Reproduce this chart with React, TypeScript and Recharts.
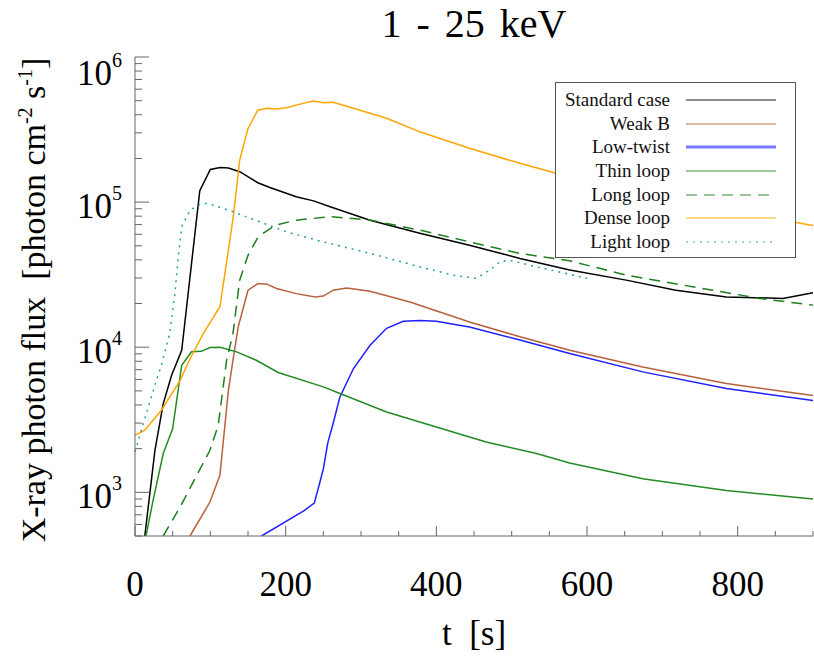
import { Legend, Line, LineChart, XAxis, YAxis } from "recharts";

// time samples [s] and X-ray photon flux for each run
const STD_T = [13, 26.5, 37.5, 48.6, 62, 86, 100, 113, 124, 139, 163, 179, 214, 237, 259, 312, 378, 444, 511, 577, 652, 718, 785, 860, 900];
const STD_V = [500, 1950, 4090, 6410, 9530, 1.2e5, 1.68e5, 1.73e5, 1.72e5, 1.62e5, 1.36e5, 1.26e5, 1.09e5, 1.02e5, 9.3e4, 7.5e4, 6.1e4, 5.05e4, 4.09e4, 3.4e4, 2.9e4, 2.47e4, 2.22e4, 2.17e4, 2.37e4];

const WEAK_T = [73, 99.5, 112.7, 124, 130, 137, 150, 163.5, 175, 188, 214, 239, 250, 263, 281, 312, 365, 444, 511, 577, 674, 785, 900];
const WEAK_V = [500, 857, 1310, 5050, 8130, 1.38e4, 2.47e4, 2.75e4, 2.72e4, 2.54e4, 2.34e4, 2.22e4, 2.25e4, 2.47e4, 2.56e4, 2.43e4, 2.05e4, 1.49e4, 1.18e4, 9530, 7310, 5620, 4650];

const LOWTW_T = [168, 225, 238, 245, 250, 256, 263, 272, 290, 312, 334, 356, 378, 400, 444, 511, 577, 674, 785, 900];
const LOWTW_V = [500, 752, 843, 1150, 1450, 2200, 2980, 4540, 7130, 1.03e4, 1.35e4, 1.51e4, 1.53e4, 1.51e4, 1.38e4, 1.12e4, 9060, 6760, 5190, 4300];

const THIN_T = [14.6, 24, 37.5, 50, 62, 75, 88, 99.5, 113, 135, 161, 190, 250, 272, 334, 400, 466, 533, 577, 674, 785, 900];
const THIN_V = [500, 880, 1850, 2750, 7510, 9290, 9370, 9950, 1.0e4, 9290, 8130, 6700, 5330, 4800, 3580, 2820, 2220, 1850, 1590, 1240, 1030, 900];

const LONG_T = [37.5, 60, 82, 99.5, 110.5, 121.6, 130, 139, 150, 163.5, 186, 214, 259, 312, 378, 444, 511, 577, 652, 740, 829, 900];
const LONG_V = [500, 794, 1310, 1950, 2900, 8130, 1.24e4, 2.9e4, 4.3e4, 5.77e4, 6.93e4, 7.51e4, 7.93e4, 7.52e4, 6.41e4, 5.32e4, 4.43e4, 3.94e4, 3.14e4, 2.61e4, 2.17e4, 1.95e4];

const DENSE_T = [0, 13, 35, 60, 72, 90.6, 112.7, 124, 130.4, 139, 150, 163, 175, 188, 201, 223, 237, 250, 263, 290, 334, 378, 444, 511, 577, 696, 900];
const DENSE_V = [2470, 2680, 3680, 5910, 8130, 1.24e4, 1.9e4, 4.67e4, 7.9e4, 1.95e5, 3.22e5, 4.3e5, 4.43e5, 4.38e5, 4.47e5, 4.79e5, 4.98e5, 4.84e5, 4.87e5, 4.43e5, 3.78e5, 3.05e5, 2.35e5, 1.85e5, 1.49e5, 1.06e5, 6.9e4];

const LIGHT_T = [0, 13, 26.5, 35, 46, 53, 57, 62, 73, 88, 97, 130, 166, 201, 245, 312, 378, 422, 453, 471, 484, 497, 533, 577, 600];
const LIGHT_V = [1900, 3220, 5470, 7510, 1.24e4, 2.34e4, 3.98e4, 6.77e4, 8.8e4, 9.77e4, 9.8e4, 8.58e4, 7.31e4, 6.24e4, 5.4e4, 4.43e4, 3.58e4, 3.14e4, 2.98e4, 3.4e4, 3.87e4, 3.98e4, 3.58e4, 3.18e4, 2.98e4];

const X_TICKS = [0, 50, 100, 150, 200, 250, 300, 350, 400, 450, 500, 550, 600, 650, 700, 750, 800, 850, 900];
const Y_TICKS = [
  500, 600, 700, 800, 900,
  1e3, 2e3, 3e3, 4e3, 5e3, 6e3, 7e3, 8e3, 9e3,
  1e4, 2e4, 3e4, 4e4, 5e4, 6e4, 7e4, 8e4, 9e4,
  1e5, 2e5, 3e5, 4e5, 5e5, 6e5, 7e5, 8e5, 9e5,
  1e6,
];

const zip = (ts: number[], vs: number[]) => ts.map((t, i) => ({ t, v: vs[i] }));

const SERIES = [
  { name: "Standard case", data: zip(STD_T, STD_V), color: "#000000" },
  { name: "Weak B", data: zip(WEAK_T, WEAK_V), color: "#b8603c" },
  { name: "Low-twist", data: zip(LOWTW_T, LOWTW_V), color: "#1f1fff", legendWidth: 3 },
  { name: "Thin loop", data: zip(THIN_T, THIN_V), color: "#238b23" },
  { name: "Long loop", data: zip(LONG_T, LONG_V), color: "#1e7f1e", dash: "11 7" },
  { name: "Dense loop", data: zip(DENSE_T, DENSE_V), color: "#ffa500" },
  { name: "Light loop", data: zip(LIGHT_T, LIGHT_V), color: "#2a9fa0", dash: "2 5" },
];

const FONT = "'Liberation Serif', 'DejaVu Serif', serif";
const TICK_COLOR = "#666";

const isMajorY = (v: number) => {
  const e = Math.log10(v);
  return Math.abs(e - Math.round(e)) < 1e-9;
};

function LeftTick({ x, y, payload }: any) {
  const v = payload.value;
  const major = isMajorY(v);
  const exp = Math.round(Math.log10(v));
  return (
    <g>
      <line x1={x} x2={x + (major ? 14 : 7)} y1={y} y2={y} stroke={TICK_COLOR} />
      {major && (
        <text x={x - 13} y={y + (v === 1e6 ? 28 : 15.5)} textAnchor="end" fontSize={35} fontFamily={FONT} fill="#000">
          10
          <tspan dy={-18} fontSize={20}>
            {exp}
          </tspan>
        </text>
      )}
    </g>
  );
}

function RightTick({ x, y, payload }: any) {
  const major = isMajorY(payload.value);
  return <line x1={x} x2={x - (major ? 14 : 7)} y1={y} y2={y} stroke={TICK_COLOR} />;
}

function BottomTick({ x, y, payload }: any) {
  const major = payload.value % 200 === 0;
  return (
    <g>
      <line x1={x} x2={x} y1={y} y2={y - (major ? 10 : 5)} stroke={TICK_COLOR} />
      {major && (
        <text x={x} y={y + 60} textAnchor="middle" fontSize={35} fontFamily={FONT} fill="#000">
          {payload.value}
        </text>
      )}
    </g>
  );
}

function TopTick({ x, y, payload }: any) {
  const major = payload.value % 200 === 0;
  return <line x1={x} x2={x} y1={y} y2={y + (major ? 10 : 5)} stroke={TICK_COLOR} />;
}

// x-axis label plus the chart title above the frame
function AxisTexts() {
  return (
    <g>
      <text x={474} y={645} textAnchor="middle" fontSize={35} fontFamily={FONT} fill="#000">
        {"t\u00a0\u00a0[s]"}
      </text>
      <text x={474} y={37} textAnchor="middle" fontSize={40} wordSpacing={5} fontFamily={FONT} fill="#000">
        1 - 25 keV
      </text>
    </g>
  );
}

function LegendBox() {
  return (
    <div
      style={{
        width: 241,
        height: 176,
        border: "1px solid #555",
        background: "#fff",
        fontFamily: FONT,
        fontSize: 19,
        color: "#111",
        paddingTop: 5,
        boxSizing: "border-box",
      }}
    >
      {SERIES.map((s) => (
        <div key={s.name} style={{ display: "flex", alignItems: "center", height: 23.7 }}>
          <span style={{ width: 114, textAlign: "right", whiteSpace: "nowrap" }}>{s.name}</span>
          <svg width={100} height={10} style={{ marginLeft: 16 }}>
            <line
              x1={0}
              x2={90}
              y1={5}
              y2={5}
              stroke={s.color}
              strokeOpacity={0.6}
              strokeWidth={s.legendWidth ?? 1.5}
              strokeDasharray={s.dash}
            />
          </svg>
        </div>
      ))}
    </div>
  );
}

export default function App() {
  return (
    <div style={{ position: "absolute", left: 0, top: 0 }}>
      <LineChart width={814} height={657} margin={{ top: 57, right: 1, bottom: 0, left: 0 }}>
        <XAxis
          xAxisId="b"
          dataKey="t"
          type="number"
          domain={[0, 900]}
          ticks={X_TICKS}
          interval={0}
          height={121}
          tickSize={0}
          tickMargin={0}
          tick={<BottomTick />}
          axisLine={{ stroke: TICK_COLOR }}
          label={{ content: () => <AxisTexts /> }}
        />
        <XAxis
          xAxisId="t"
          orientation="top"
          type="number"
          domain={[0, 900]}
          ticks={X_TICKS}
          interval={0}
          height={0}
          tickSize={0}
          tickMargin={0}
          tick={<TopTick />}
          axisLine={{ stroke: TICK_COLOR }}
        />
        <YAxis
          yAxisId="l"
          scale="log"
          domain={[500, 1e6]}
          allowDataOverflow
          ticks={Y_TICKS}
          interval={0}
          width={135}
          tickSize={0}
          tickMargin={0}
          tick={<LeftTick />}
          axisLine={{ stroke: TICK_COLOR }}
          label={{
            content: () => (
              <text
                transform="translate(45,300) rotate(-90)"
                textAnchor="middle"
                fontSize={34}
                fontFamily={FONT}
                fill="#000"
              >
                X-ray photon flux{"\u00a0\u00a0"}[photon cm
                <tspan dy={-13} fontSize={20}>-2</tspan>
                <tspan dy={13}> s</tspan>
                <tspan dy={-13} fontSize={20}>-1</tspan>
                <tspan dy={13}>]</tspan>
              </text>
            ),
          }}
        />
        <YAxis
          yAxisId="r"
          orientation="right"
          scale="log"
          domain={[500, 1e6]}
          allowDataOverflow
          ticks={Y_TICKS}
          interval={0}
          width={0}
          tickSize={0}
          tickMargin={0}
          tick={<RightTick />}
          axisLine={{ stroke: TICK_COLOR }}
        />
        <Legend
          layout="vertical"
          align="center"
          verticalAlign="middle"
          content={() => <LegendBox />}
          wrapperStyle={{ left: 555, top: 82, width: 241, height: 176 }}
        />
        {SERIES.map((s) => (
          <Line
            key={s.name}
            xAxisId="b"
            yAxisId="l"
            data={s.data}
            dataKey="v"
            name={s.name}
            type="linear"
            stroke={s.color}
            strokeWidth={1.5}
            strokeDasharray={s.dash}
            dot={false}
            activeDot={false}
            isAnimationActive={false}
          />
        ))}
      </LineChart>
    </div>
  );
}
